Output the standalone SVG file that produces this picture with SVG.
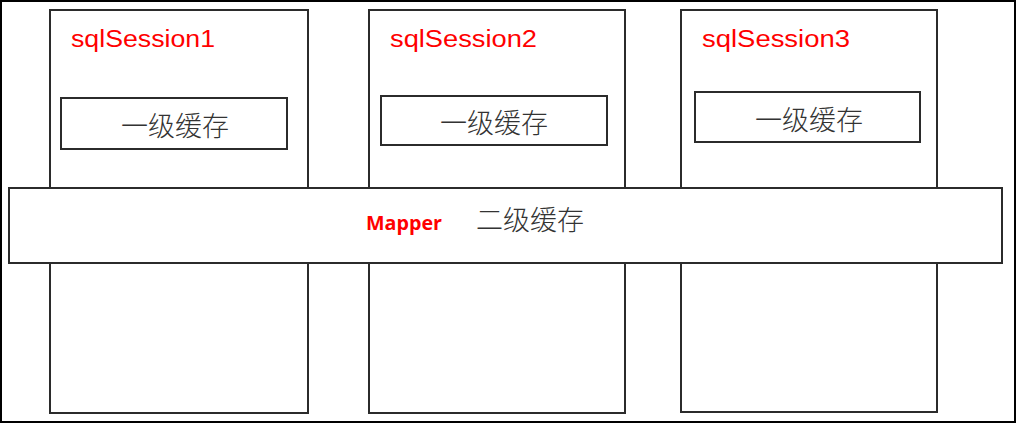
<svg xmlns="http://www.w3.org/2000/svg" width="1017" height="424" viewBox="0 0 1017 424">
<style>
.box{fill:#fff;stroke:#2b2b2b;stroke-width:2}
.title{fill:#ff0000;font-family:"Liberation Sans",Arial,sans-serif;font-size:23px}
.cjk{fill:#333;font-family:"Noto Sans CJK SC","Noto Sans",sans-serif;font-size:27px;text-anchor:middle;font-weight:300}
.mapper{fill:#ff0000;font-family:"Open Sans","Liberation Sans",sans-serif;font-size:19px;font-weight:bold}
</style>
<rect x="1" y="1" width="1014" height="421" fill="#fff" stroke="#000" stroke-width="2"/>
<g id="session1">
<rect class="box" x="50" y="10" width="258" height="403"/>
<text class="title" x="71" y="47" textLength="144" lengthAdjust="spacingAndGlyphs">sqlSession1</text>
<rect class="box" x="61" y="98" width="226" height="51"/>
<text class="cjk" x="175" y="136">一级缓存</text>
</g>
<g id="session2">
<rect class="box" x="369" y="10" width="256" height="403"/>
<text class="title" x="390" y="47" textLength="147" lengthAdjust="spacingAndGlyphs">sqlSession2</text>
<rect class="box" x="381" y="96" width="226" height="49"/>
<text class="cjk" x="494" y="133">一级缓存</text>
</g>
<g id="session3">
<rect class="box" x="681" y="10" width="256" height="402"/>
<text class="title" x="702" y="47" textLength="148" lengthAdjust="spacingAndGlyphs">sqlSession3</text>
<rect class="box" x="695" y="92" width="225" height="50"/>
<text class="cjk" x="809" y="130">一级缓存</text>
</g>
<g id="mapper">
<rect class="box" x="9" y="188" width="993" height="75"/>
<text class="mapper" x="366" y="230" textLength="76" lengthAdjust="spacingAndGlyphs">Mapper</text>
<text class="cjk" x="530" y="230">二级缓存</text>
</g>
<g id="connectors"></g>
</svg>
